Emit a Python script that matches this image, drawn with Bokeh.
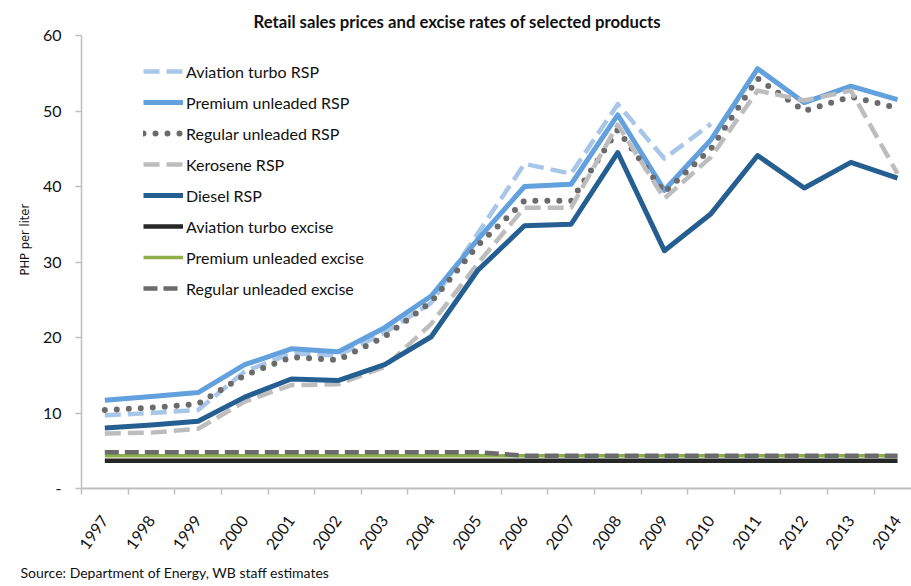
from bokeh.plotting import figure
from bokeh.models import Range1d, FixedTicker, Legend, LegendItem, Title, ColumnDataSource
from bokeh.embed import file_html
from bokeh.resources import INLINE

years = [1997, 1998, 1999, 2000, 2001, 2002, 2003, 2004, 2005,
         2006, 2007, 2008, 2009, 2010, 2011, 2012, 2013, 2014]
nan = float("nan")
aviation_rsp = [9.7, 10.0, 10.4, 15.5, 17.9, 17.6, 20.6, 24.6, 33.8,
                43.0, 41.7, 50.9, 43.7, 48.3, nan, nan, nan, nan]
premium_rsp = [11.7, 12.2, 12.7, 16.4, 18.5, 18.1, 21.3, 25.5, 33.0,
               40.0, 40.3, 49.5, 39.5, 46.2, 55.6, 51.1, 53.3, 51.5]
regular_rsp = [10.4, 10.7, 11.2, 15.0, 17.4, 17.0, 20.1, 24.7, 32.2,
               38.1, 38.1, 47.5, 39.2, 45.0, 54.3, 50.0, 51.9, 50.4]
kerosene_rsp = [7.3, 7.4, 7.9, 11.5, 13.7, 13.8, 16.1, 21.8, 29.8,
                37.2, 37.2, 48.2, 38.4, 43.9, 52.7, 51.4, 52.7, 41.7]
diesel_rsp = [8.0, 8.4, 8.9, 12.1, 14.5, 14.3, 16.4, 20.1, 28.9,
              34.8, 35.0, 44.5, 31.5, 36.4, 44.1, 39.8, 43.2, 41.1]
aviation_excise = [3.67] * 18
premium_excise = [4.35] * 18
regular_excise = [4.8] * 9 + [4.35] * 9

y_ticks = [0, 10, 20, 30, 40, 50, 60]

FONT = "Lato"

p = figure(width=911, height=586, output_backend="svg", toolbar_location=None,
           x_range=Range1d(1996.5, 2014.3), y_range=Range1d(0, 60),
           min_border_left=81, min_border_right=0, min_border_top=35, min_border_bottom=98)
p.outline_line_color = None
p.xgrid.visible = False
p.ygrid.visible = False
p.background_fill_color = "white"
p.border_fill_color = "white"

# title
p.title.text = "Retail sales prices and excise rates of selected products"
p.title.align = "left"
p.title.offset = 172
p.title.text_font = FONT
p.title.text_font_size = "16.7px"
p.title.text_font_style = "bold"
p.title.text_color = "#111111"
p.title.standoff = 8

# axes
p.xaxis.ticker = FixedTicker(ticks=years, minor_ticks=[y - 0.5 for y in years] + [years[-1] + 0.5])
p.xaxis.major_tick_out = 0
p.xaxis.major_tick_in = 0
p.xaxis.minor_tick_out = 6
p.xaxis.minor_tick_in = 0
p.xaxis.minor_tick_line_color = "#BFBFBF"
p.xaxis.minor_tick_line_width = 1.5
p.xaxis.axis_line_color = "#BFBFBF"
p.xaxis.axis_line_width = 2
p.xaxis.major_label_orientation = 0.95
p.xaxis.major_label_standoff = 23
p.xaxis.major_label_text_font = FONT
p.xaxis.major_label_text_font_size = "16px"
p.xaxis.major_label_text_color = "#111111"

p.yaxis.ticker = FixedTicker(ticks=y_ticks)
p.yaxis.major_label_overrides = {0: "-"}
p.yaxis.major_tick_out = 6
p.yaxis.major_tick_in = 0
p.yaxis.minor_tick_line_color = None
p.yaxis.major_tick_line_color = "#BFBFBF"
p.yaxis.major_tick_line_width = 1.5
p.yaxis.axis_line_color = "#BFBFBF"
p.yaxis.axis_line_width = 1.5
p.yaxis.major_label_standoff = 14
p.yaxis.major_label_text_font = FONT
p.yaxis.major_label_text_font_size = "16px"
p.yaxis.major_label_text_color = "#111111"

src = ColumnDataSource(dict(x=years, av=aviation_rsp, pr=premium_rsp, rg=regular_rsp,
                            ke=kerosene_rsp, di=diesel_rsp, ave=aviation_excise,
                            pre=premium_excise, rge=regular_excise))

common = dict(source=src, line_join="round")
r_av = p.line("x", "av", line_color="#A8C6E8", line_width=4.5, line_dash="16 7", **common)
r_pr = p.line("x", "pr", line_color="#62A0DE", line_width=5, **common)
r_rg = p.line("x", "rg", line_color="#6B6B6B", line_width=6, line_dash="0 12", line_cap="round", **common)
r_ke = p.line("x", "ke", line_color="#BDBDBD", line_width=4.5, line_dash="16 7", **common)
r_di = p.line("x", "di", line_color="#255E91", line_width=5, **common)
r_ave = p.line("x", "ave", line_color="#262626", line_width=4.5, **common)
r_pre = p.line("x", "pre", line_color="#8DB04A", line_width=3.5, **common)
r_rge = p.line("x", "rge", line_color="#6B6B6B", line_width=4.5, line_dash="14 6", **common)

legend = Legend(items=[
    LegendItem(label="Aviation turbo RSP", renderers=[r_av]),
    LegendItem(label="Premium unleaded RSP", renderers=[r_pr]),
    LegendItem(label="Regular unleaded RSP", renderers=[r_rg]),
    LegendItem(label="Kerosene RSP", renderers=[r_ke]),
    LegendItem(label="Diesel RSP", renderers=[r_di]),
    LegendItem(label="Aviation turbo excise", renderers=[r_ave]),
    LegendItem(label="Premium unleaded excise", renderers=[r_pre]),
    LegendItem(label="Regular unleaded excise", renderers=[r_rge]),
], location=(62, 190))
legend.padding = 0
legend.margin = 0
legend.spacing = 11
legend.glyph_height = 20
legend.label_height = 20
legend.glyph_width = 40
legend.label_standoff = 3
legend.border_line_color = None
legend.background_fill_alpha = 0
legend.label_text_font = FONT
legend.label_text_font_size = "16px"
legend.label_text_color = "#111111"
p.add_layout(legend)

ylab = Title(text="PHP per liter", align="left", offset=213,
             text_font="DejaVu Sans", text_font_size="11.5px", text_font_style="normal",
             text_color="#111111", standoff=15)
p.add_layout(ylab, "left")

source = Title(text="Source: Department of Energy, WB staff estimates", align="left", offset=-61,
               text_font=FONT, text_font_size="14px", text_font_style="normal",
               text_color="#111111", standoff=9)
p.add_layout(source, "below")

open("out.html", "w").write(file_html(p, INLINE))
